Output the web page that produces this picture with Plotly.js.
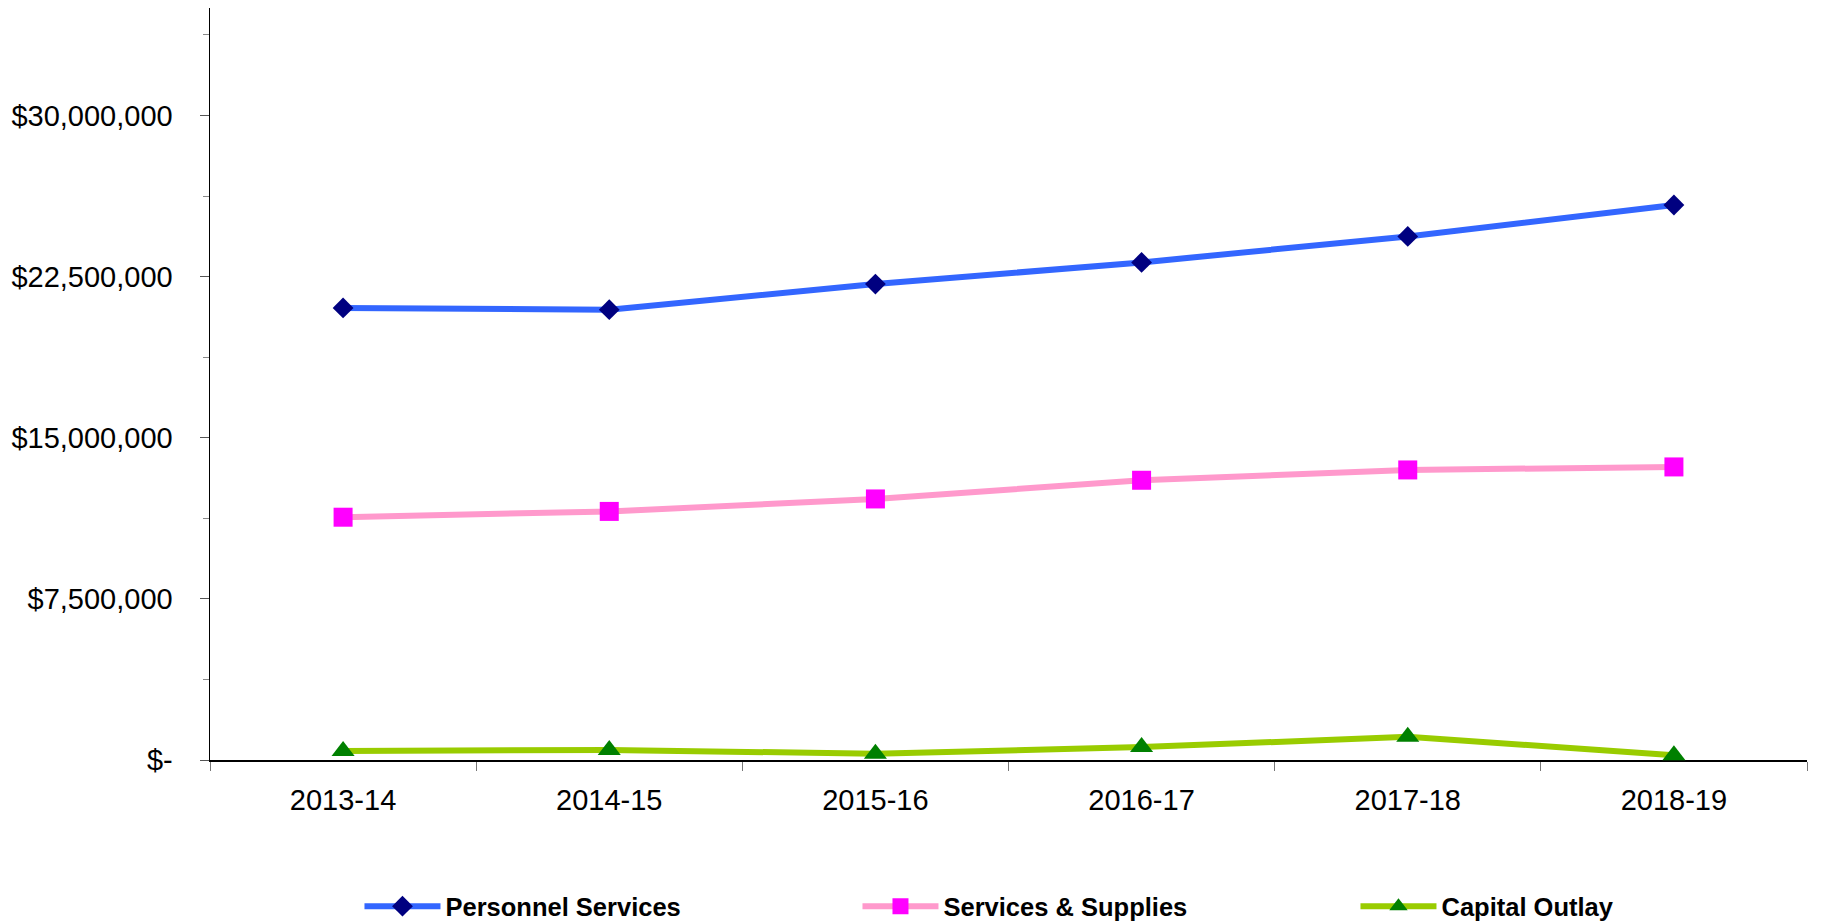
<!DOCTYPE html>
<html>
<head>
<meta charset="utf-8">
<script src="https://cdn.plot.ly/plotly-3.0.1.min.js"></script>
<style>
html,body{margin:0;padding:0;background:#fff;}
#chart{width:1822px;height:924px;}
</style>
</head>
<body>
<div id="chart"></div>
<script>
const years = ["2013-14", "2014-15", "2015-16", "2016-17", "2017-18", "2018-19"];
const personnelServices = [21040000, 20960000, 22150000, 23160000, 24370000, 25830000];
const servicesSupplies = [11300000, 11570000, 12150000, 13020000, 13500000, 13640000];
const capitalOutlay = [420000, 470000, 290000, 600000, 1080000, 220000];
const yTickVals = [0, 7500000, 15000000, 22500000, 30000000];
const yTickText = ["$-", "$7,500,000", "$15,000,000", "$22,500,000", "$30,000,000"];

const FONT = "Liberation Sans, Arial, sans-serif";

const traces = [
  {
    x: years, y: personnelServices, name: "Personnel Services",
    type: "scatter", mode: "lines+markers", cliponaxis: false, legendwidth: 407,
    line: {color: "#3366FF", width: 6},
    marker: {symbol: "diamond", size: 16, color: "#000080"}
  },
  {
    x: years, y: servicesSupplies, name: "Services & Supplies",
    type: "scatter", mode: "lines+markers", cliponaxis: false, legendwidth: 407,
    line: {color: "#FF99CC", width: 6},
    marker: {symbol: "square", size: 19, color: "#FF00FF"}
  },
  {
    x: years, y: capitalOutlay, name: "Capital Outlay",
    type: "scatter", mode: "lines+markers", cliponaxis: false,
    line: {color: "#99CC00", width: 6},
    marker: {symbol: "triangle-up", size: 20, color: "#008000"}
  }
];

const layout = {
  width: 1822, height: 924,
  margin: {l: 210, r: 15, t: 8, b: 164, autoexpand: false},
  paper_bgcolor: "#fff", plot_bgcolor: "#fff",
  font: {family: FONT, color: "#000", size: 29},
  showlegend: true,
  legend: {
    orientation: "h", x: 0.0936, xanchor: "left", y: -0.195, yanchor: "middle",
    font: {family: FONT, size: 25.5, color: "#000", weight: "bold"},
    itemwidth: 76,
    bgcolor: "rgba(0,0,0,0)"
  },
  xaxis: {
    type: "category", range: [-0.5, 5.5],
    showline: true, linecolor: "#000", linewidth: 1.5,
    showgrid: false, zeroline: false,
    ticks: "outside", tickson: "boundaries", ticklen: 9, tickcolor: "#777", tickwidth: 1,
    tickfont: {family: FONT, size: 29, color: "#000"},
    ticklabelstandoff: 14,
    layer: "below traces"
  },
  yaxis: {
    range: [0, 35000000],
    showline: true, linecolor: "#000", linewidth: 1.5,
    showgrid: false, zeroline: false,
    tickmode: "array", tickvals: yTickVals, ticktext: yTickText,
    ticks: "outside", ticklen: 9, tickcolor: "#555", tickwidth: 1,
    minor: {dtick: 3750000, tick0: 0, ticks: "outside", ticklen: 6, tickcolor: "#888", tickwidth: 1, showgrid: false},
    tickfont: {family: FONT, size: 29, color: "#000"},
    ticklabelstandoff: 21,
    layer: "below traces"
  }
};

Plotly.newPlot("chart", traces, layout, {displayModeBar: false, staticPlot: true});
</script>
</body>
</html>
